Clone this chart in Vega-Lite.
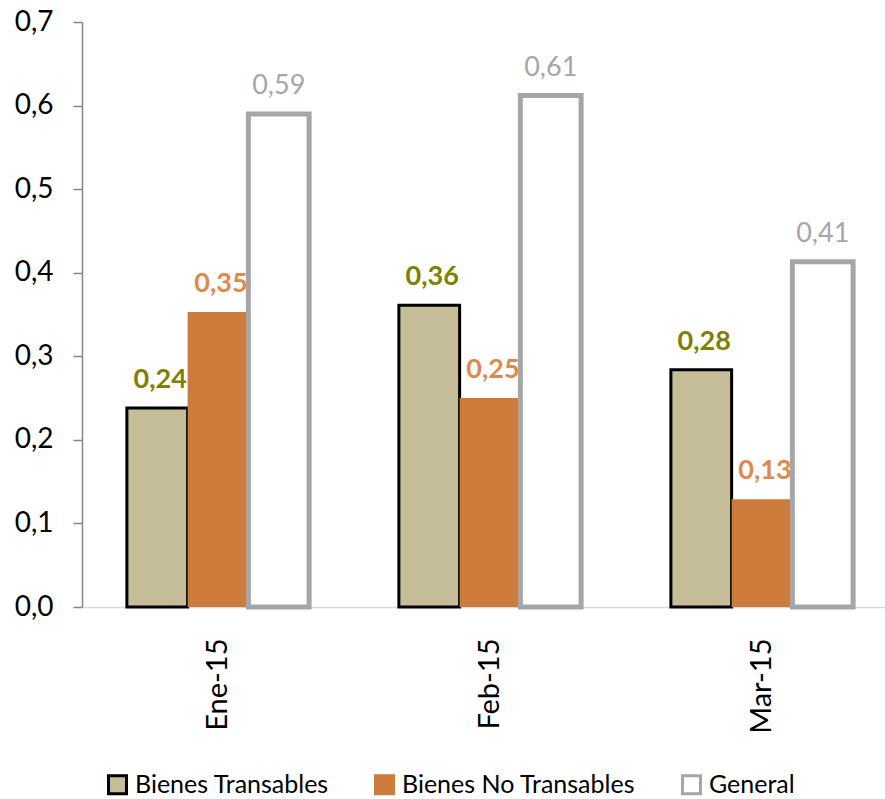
{
  "$schema": "https://vega.github.io/schema/vega-lite/v6.json",
  "autosize": {"type": "none"},
  "width": 803,
  "height": 585,
  "padding": {"left": 82, "top": 22, "right": 0, "bottom": 192},
  "background": "white",
  "config": {
    "view": {"stroke": null},
    "font": "Lato",
    "locale": {"number": {"decimal": ",", "thousands": ".", "grouping": [3], "currency": ["", ""]}}
  },
  "data": {
    "values": [
      {"mes": "Ene-15", "serie": "Bienes Transables", "valor": 0.238},
      {"mes": "Ene-15", "serie": "Bienes No Transables", "valor": 0.353},
      {"mes": "Ene-15", "serie": "General", "valor": 0.59},
      {"mes": "Feb-15", "serie": "Bienes Transables", "valor": 0.361},
      {"mes": "Feb-15", "serie": "Bienes No Transables", "valor": 0.25},
      {"mes": "Feb-15", "serie": "General", "valor": 0.612},
      {"mes": "Mar-15", "serie": "Bienes Transables", "valor": 0.284},
      {"mes": "Mar-15", "serie": "Bienes No Transables", "valor": 0.129},
      {"mes": "Mar-15", "serie": "General", "valor": 0.413}
    ]
  },
  "encoding": {
    "x": {
      "field": "mes", "type": "nominal", "sort": ["Ene-15", "Feb-15", "Mar-15"],
      "scale": {"range": [0, 816], "paddingInner": 0.33, "paddingOuter": 0.165},
      "axis": {
        "title": null, "labelAngle": -90, "labelAlign": "right", "labelBaseline": "middle",
        "labelPadding": 31, "labelFontSize": 29, "labelColor": "#000000", "labelFont": "Lato",
        "ticks": false, "domainColor": "#D9D9D9", "domainWidth": 1.5
      }
    },
    "xOffset": {
      "field": "serie", "type": "nominal",
      "sort": ["Bienes Transables", "Bienes No Transables", "General"],
      "scale": {"paddingInner": 0, "paddingOuter": 0}
    },
    "y": {
      "field": "valor", "type": "quantitative",
      "scale": {"domain": [0, 0.7], "nice": false},
      "axis": {
        "title": null, "values": [0, 0.1, 0.2, 0.3, 0.4, 0.5, 0.6, 0.7], "format": ".1f",
        "grid": false, "labelFontSize": 28, "labelColor": "#000000", "labelFont": "Lato",
        "labelPadding": 20, "tickSize": 9, "tickColor": "#868686", "domainColor": "#868686",
        "domainWidth": 1.5, "tickWidth": 1.5
      }
    }
  },
  "layer": [
    {
      "mark": {"type": "bar"},
      "encoding": {
        "fill": {
          "field": "serie", "type": "nominal",
          "scale": {
            "domain": ["Bienes Transables", "Bienes No Transables", "General"],
            "range": ["#C4BD97", "#CD7B3A", "#FFFFFF"]
          },
          "legend": {
            "orient": "none", "legendX": 23, "legendY": 750, "direction": "horizontal",
            "columns": 3, "title": null, "symbolType": "square", "symbolSize": 324,
            "symbolStrokeWidth": 3, "labelFontSize": 25, "labelFont": "Lato", "labelColor": "#000000",
            "labelOffset": 5, "columnPadding": 40, "padding": 0, "labelLimit": 400
          }
        },
        "stroke": {
          "field": "serie", "type": "nominal",
          "scale": {
            "domain": ["Bienes Transables", "Bienes No Transables", "General"],
            "range": ["#000000", "#CD7B3A", "#A6A6A6"]
          },
          "legend": {
            "orient": "none", "legendX": 23, "legendY": 750, "direction": "horizontal",
            "columns": 3, "title": null, "symbolType": "square", "symbolSize": 324,
            "symbolStrokeWidth": 3, "labelFontSize": 25, "labelFont": "Lato", "labelColor": "#000000",
            "labelOffset": 5, "columnPadding": 40, "padding": 0, "labelLimit": 400
          }
        },
        "strokeWidth": {
          "condition": [
            {"test": "datum.serie === 'Bienes Transables'", "value": 3},
            {"test": "datum.serie === 'Bienes No Transables'", "value": 0}
          ],
          "value": 5
        }
      }
    },
    {
      "transform": [{"filter": "datum.serie !== 'General'"}],
      "mark": {"type": "text", "baseline": "alphabetic", "dy": -20, "dx": 3, "fontSize": 27, "fontWeight": "bold", "font": "Lato"},
      "encoding": {
        "text": {"field": "valor", "type": "quantitative", "format": ".2f"},
        "color": {
          "condition": {"test": "datum.serie === 'Bienes Transables'", "value": "#7F7F00"},
          "value": "#DE8A4E"
        }
      }
    },
    {
      "transform": [{"filter": "datum.serie === 'General'"}],
      "mark": {"type": "text", "baseline": "alphabetic", "dy": -20, "fontSize": 27, "fontWeight": "normal", "font": "Lato", "color": "#A6A6A6"},
      "encoding": {
        "text": {"field": "valor", "type": "quantitative", "format": ".2f"}
      }
    }
  ]
}
